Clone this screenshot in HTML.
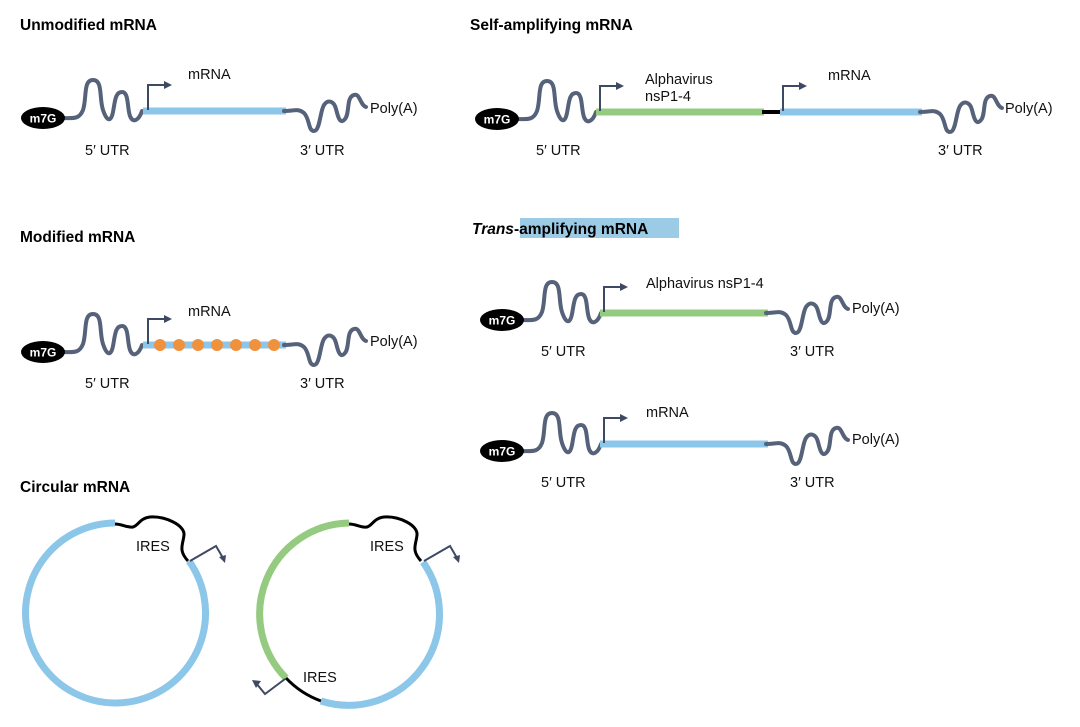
<!DOCTYPE html>
<html><head><meta charset="utf-8"><style>
body{margin:0;background:#fff;}
svg{display:block;font-family:"Liberation Sans",Arial,sans-serif;}
.t{font-weight:bold;font-size:15.5px;fill:#000;}
.l{font-size:14.5px;fill:#111;}
.utr{fill:none;stroke:#56627a;stroke-width:4;stroke-linecap:round;}
.arr{fill:none;stroke:#3e4a63;stroke-width:2;}
</style></head><body>
<svg width="1080" height="727" viewBox="0 0 1080 727">
<defs>
<path id="u5" class="utr" d="M18,0 C30,0 36,2 40,-8 C44,-20 40,-38 50,-38 C60,-38 56,-20 60,-8 C64,4 68,4 70,-6 C72,-16 72,-26 79,-26 C86,-26 84,-10 87,-2 C90,6 96,2 99,-7"/>
<path id="u3" class="utr" d="M0,0 C10,0 14,-3 20,2 C26,8 24,20 30,20 C36,20 36,0 40,-6 C44,-12 50,-10 52,-2 C54,6 56,14 61,8 C66,2 62,-14 70,-16 C76,-18 76,-6 82,-4"/>
<g id="cap"><ellipse cx="0" cy="0" rx="22" ry="11" fill="#000"/><text x="0" y="4.5" text-anchor="middle" fill="#fff" font-weight="bold" font-size="12">m7G</text></g>
<g id="pr"><path class="arr" d="M0,0 V-25 H18"/><path d="M16,-29 L24,-25 L16,-21 Z" fill="#3e4a63"/></g>
</defs>

<!-- Unmodified -->
<text class="t" x="20" y="30">Unmodified mRNA</text>
<use href="#u5" x="43" y="118"/><use href="#cap" x="43" y="118"/>
<line x1="143" y1="111" x2="286" y2="111" stroke="#8cc6e8" stroke-width="7"/>
<use href="#u3" x="284" y="111"/>
<use href="#pr" x="148" y="110"/>
<text class="l" x="188" y="79">mRNA</text>
<text class="l" x="370" y="113">Poly(A)</text>
<text class="l" x="85" y="155">5′ UTR</text><text class="l" x="300" y="155">3′ UTR</text>

<!-- Modified -->
<text class="t" x="20" y="242">Modified mRNA</text>
<use href="#u5" x="43" y="352"/><use href="#cap" x="43" y="352"/>
<line x1="143" y1="345" x2="286" y2="345" stroke="#8cc6e8" stroke-width="7"/>
<g fill="#f0913e"><circle cx="160" cy="345" r="6"/><circle cx="179" cy="345" r="6"/><circle cx="198" cy="345" r="6"/><circle cx="217" cy="345" r="6"/><circle cx="236" cy="345" r="6"/><circle cx="255" cy="345" r="6"/><circle cx="274" cy="345" r="6"/></g>
<use href="#u3" x="284" y="345"/>
<use href="#pr" x="148" y="344"/>
<text class="l" x="188" y="316">mRNA</text>
<text class="l" x="370" y="346">Poly(A)</text>
<text class="l" x="85" y="388">5′ UTR</text><text class="l" x="300" y="388">3′ UTR</text>

<!-- Self-amplifying -->
<text class="t" x="470" y="30">Self-amplifying mRNA</text>
<use href="#u5" x="497" y="119"/><use href="#cap" x="497" y="119"/>
<line x1="596" y1="112" x2="764" y2="112" stroke="#95cb80" stroke-width="7"/>
<line x1="762" y1="112" x2="782" y2="112" stroke="#000" stroke-width="4"/>
<line x1="780" y1="112" x2="922" y2="112" stroke="#8cc6e8" stroke-width="7"/>
<use href="#u3" x="920" y="112"/>
<use href="#pr" x="600" y="111"/><use href="#pr" x="783" y="111"/>
<text class="l" x="645" y="84">Alphavirus</text><text class="l" x="645" y="101">nsP1-4</text>
<text class="l" x="828" y="80">mRNA</text>
<text class="l" x="1005" y="113">Poly(A)</text>
<text class="l" x="536" y="155">5′ UTR</text><text class="l" x="938" y="155">3′ UTR</text>

<!-- Trans-amplifying -->
<rect x="520" y="218" width="159" height="20" fill="#9ccbe6"/>
<text class="t" x="472" y="234"><tspan font-style="italic">Trans</tspan>-amplifying mRNA</text>
<use href="#u5" x="502" y="320"/><use href="#cap" x="502" y="320"/>
<line x1="600" y1="313" x2="768" y2="313" stroke="#95cb80" stroke-width="7"/>
<use href="#u3" x="766" y="313"/>
<use href="#pr" x="604" y="312"/>
<text class="l" x="646" y="288">Alphavirus nsP1-4</text>
<text class="l" x="852" y="313">Poly(A)</text>
<text class="l" x="541" y="356">5′ UTR</text><text class="l" x="790" y="356">3′ UTR</text>

<use href="#u5" x="502" y="451"/><use href="#cap" x="502" y="451"/>
<line x1="600" y1="444" x2="768" y2="444" stroke="#8cc6e8" stroke-width="7"/>
<use href="#u3" x="766" y="444"/>
<use href="#pr" x="604" y="443"/>
<text class="l" x="646" y="417">mRNA</text>
<text class="l" x="852" y="444">Poly(A)</text>
<text class="l" x="541" y="487">5′ UTR</text><text class="l" x="790" y="487">3′ UTR</text>

<!-- Circular -->
<text class="t" x="20" y="492">Circular mRNA</text>
<path d="M115,523 A90,90 0 1 0 189,561" fill="none" stroke="#8cc6e8" stroke-width="7"/>
<path d="M115,524 C122,524 128,528 133,527 C138,526 140,518 150,517 C165,516 185,525 184,535 C183,545 178,550 188,561" fill="none" stroke="#000" stroke-width="3"/>
<text class="l" x="136" y="551">IRES</text>
<path class="arr" d="M190,561 L216,546 L223,558"/><path d="M219,557 L225,563 L226,555 Z" fill="#3e4a63"/>

<path d="M349,523 A91,91 0 0 0 286,678" fill="none" stroke="#95cb80" stroke-width="7"/>
<path d="M286,678 A91,91 0 0 0 321,701" fill="none" stroke="#000" stroke-width="3"/>
<path d="M321,701 A91,91 0 0 0 423,562" fill="none" stroke="#8cc6e8" stroke-width="7"/>
<path d="M349,524 C356,524 362,528 367,527 C372,526 374,518 384,517 C399,516 418,525 417,535 C416,545 411,550 421,561" fill="none" stroke="#000" stroke-width="3"/>
<text class="l" x="370" y="551">IRES</text>
<text class="l" x="303" y="682">IRES</text>
<path class="arr" d="M424,561 L450,546 L457,558"/><path d="M453,557 L459,563 L460,555 Z" fill="#3e4a63"/>
<path class="arr" d="M285,679 L265,694 L256,683"/><path d="M252,680 L261,681 L256,688 Z" fill="#3e4a63"/>
</svg>
</body></html>
